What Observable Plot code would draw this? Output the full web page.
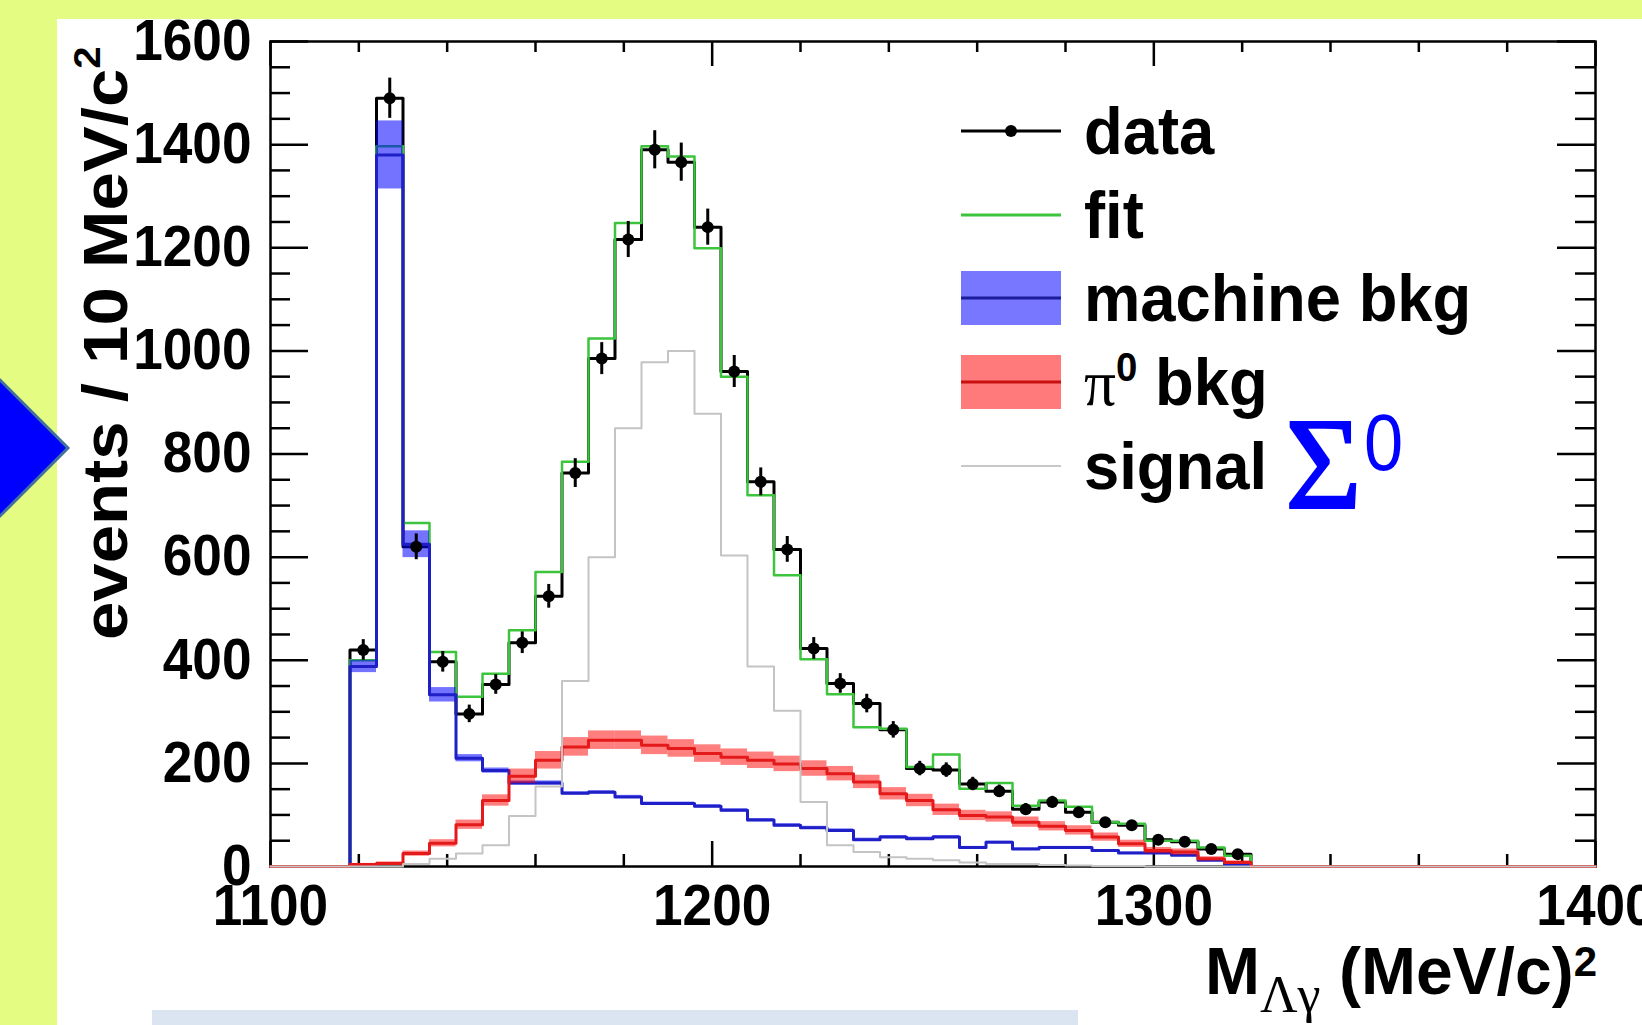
<!DOCTYPE html>
<html><head><meta charset="utf-8">
<script src="https://cdn.jsdelivr.net/npm/d3@7"></script>
<script src="https://cdn.jsdelivr.net/npm/@observablehq/plot@0.6"></script>
<style>
html,body{margin:0;padding:0;}
body{width:1642px;height:1025px;overflow:hidden;background:#e5fc83;position:relative;font-family:"Liberation Sans",Arial,sans-serif;}
#panel{position:absolute;left:57px;top:19px;right:0;bottom:0;background:#ffffff;}
#bluebar{position:absolute;left:152px;top:1010px;width:926px;height:15px;background:#dbe5f1;}
#deco{position:absolute;left:0;top:0;}
#chart{position:absolute;left:0;top:0;}
#overlay{position:absolute;left:0;top:0;}
</style></head><body>
<div id="panel"></div><div id="bluebar"></div>
<svg id="deco" width="1642" height="1025"><polygon points="-68,448 0,380 68,448 0,516" fill="#0000ff" stroke="#41719c" stroke-width="3"/></svg>
<div id="chart"></div>
<svg id="overlay" width="1642" height="1025"></svg>
<script>
// ---- data ----
const binEdges = [1118,1124,1130,1136,1142,1148,1154,1160,1166,1172,1178,1184,1190,1196,1202,1208,1214,1220,1226,1232,1238,1244,1250,1256,1262,1268,1274,1280,1286,1292,1298,1304,1310,1316,1322];
const binCenters = [1121,1127,1133,1139,1145,1151,1157,1163,1169,1175,1181,1187,1193,1199,1205,1211,1217,1223,1229,1235,1241,1247,1253,1259,1265,1271,1277,1283,1289,1295,1301,1307,1313,1319];
const dataCounts = [420,1490,620,397,296,353,434,524,763,985,1216,1390,1366,1240,960,746,615,423,355,316,265,190,187,160,146,111,125,105,86,80,52,48,34,24];
const dataErrors = [20,39,25,20,17,19,21,23,28,31,35,37,37,35,31,27,25,21,19,18,16,14,14,13,12,11,11,10,9,9,7,7,6,5];
const fitValues = [400,1397,666,416,329,374,458,571,785,1024,1248,1397,1377,1199,950,720,565,402,334,270,267,193,217,151,162,118,128,116,86,83,50,50,37,21];
const machineBkg = [388,1380,625,333,210,186,162,162,142,144,135,122,122,117,109,90,80,75,70,52,57,54,57,37,47,34,37,37,31,26,26,22,12,4];
const machineErr = [12,66,26,14,7,5,4,4,3,3,3,3,3,3,3,3,3,3,3,3,3,3,3,2,2,2,2,2,2,2,2,2,2,2];
const pi0Bkg = [4,6,25,45,81,128,175,206,232,245,245,235,229,219,212,206,199,190,180,164,141,128,110,99,96,86,78,70,57,44,31,28,15,8];
const pi0Err = [2,3,5,7,9,11,14,17,18,18,18,18,17,17,16,16,15,15,14,13,12,12,11,10,10,10,9,9,8,7,6,6,4,3];
const signalValues = [0,0,5,15,25,41,98,155,360,600,850,978,1000,878,603,388,302,125,41,28,18,15,12,8,5,5,3,2,1,1,0,0,0,0];
const xDomain = [1100, 1400];
const yDomain = [0, 1600];
const xTickLabels = [1100,1200,1300,1400];
const xMinorTicks = [1120,1140,1160,1180,1220,1240,1260,1280,1320,1340,1360,1380];
const yTickLabels = [0,200,400,600,800,1000,1200,1400,1600];
const yMinorTicks = [50,100,150,250,300,350,450,500,550,650,700,750,850,900,950,1050,1100,1150,1250,1300,1350,1450,1500,1550];
const legendLabels = ["data","fit","machine bkg","π0 bkg","signal"];
const xTitle = ["M","Λγ"," (MeV/c)","2"];
const yTitle = ["events / 10 MeV/c","2"];
const annotation = ["Σ","0"];

// ---- colours ----
const C = {data:"#000000", fit:"#3cc43c", mLine:"#1f1fc8", mBand:"#0000ff", pLine:"#e41a1a", pBand:"#ff0000", sig:"#c4c4c4"};

const idx = d3.range(binCenters.length);
function stepSeries(values){
  const pts = [{x: xDomain[0], y: 0}];
  values.forEach((v,i) => pts.push({x: binEdges[i], y: v}));
  pts.push({x: binEdges[binEdges.length-1], y: 0});
  pts.push({x: xDomain[1], y: 0});
  return pts;
}
const W = 1642, H = 1025, mL = 270, mR = 47, mT = 41, mB = 159;
const fw = W - mL - mR, fh = H - mT - mB;

const plot = Plot.plot({
  width: W, height: H,
  marginLeft: mL, marginRight: mR, marginTop: mT, marginBottom: mB,
  x: {domain: xDomain, axis: null},
  y: {domain: yDomain, axis: null},
  style: {background: "transparent", fontFamily: "'Liberation Sans', Arial, sans-serif", overflow: "visible"},
  marks: [
    Plot.frame({stroke: "black", strokeWidth: 2.5}),
    // inward ticks: bottom, top, left, right
    Plot.tickX(xTickLabels, {x: d => d, insetTop: fh - 25, stroke: "black", strokeWidth: 2.5}),
    Plot.tickX(xMinorTicks, {x: d => d, insetTop: fh - 12, stroke: "black", strokeWidth: 2.5}),
    Plot.tickX(xTickLabels, {x: d => d, insetBottom: fh - 25, stroke: "black", strokeWidth: 2.5}),
    Plot.tickX(xMinorTicks, {x: d => d, insetBottom: fh - 11, stroke: "black", strokeWidth: 2.5}),
    Plot.tickY(yTickLabels, {y: d => d, insetRight: fw - 38, stroke: "black", strokeWidth: 2.5}),
    Plot.tickY(yMinorTicks, {y: d => d, insetRight: fw - 20, stroke: "black", strokeWidth: 2.5}),
    Plot.tickY(yTickLabels, {y: d => d, insetLeft: fw - 38, stroke: "black", strokeWidth: 2.5}),
    Plot.tickY(yMinorTicks, {y: d => d, insetLeft: fw - 20, stroke: "black", strokeWidth: 2.5}),
    // data histogram outline
    Plot.line(stepSeries(dataCounts), {x: "x", y: "y", curve: "step-after", stroke: C.data, strokeWidth: 3}),
    // fit
    Plot.line(stepSeries(fitValues), {x: "x", y: "y", curve: "step-after", stroke: C.fit, strokeWidth: 2.5}),
    // machine bkg
    Plot.rect(idx, {x1: i => binEdges[i], x2: i => binEdges[i+1], y1: i => machineBkg[i] - machineErr[i], y2: i => machineBkg[i] + machineErr[i], fill: C.mBand, fillOpacity: 0.55, inset: 0}),
    Plot.line(stepSeries(machineBkg), {x: "x", y: "y", curve: "step-after", stroke: C.mLine, strokeWidth: 3}),
    // pi0 bkg
    Plot.rect(idx, {x1: i => binEdges[i], x2: i => binEdges[i+1], y1: i => pi0Bkg[i] - pi0Err[i], y2: i => pi0Bkg[i] + pi0Err[i], fill: C.pBand, fillOpacity: 0.5, inset: 0}),
    Plot.line(stepSeries(pi0Bkg), {x: "x", y: "y", curve: "step-after", stroke: C.pLine, strokeWidth: 3}),
    // signal
    Plot.line(stepSeries(signalValues), {x: "x", y: "y", curve: "step-after", stroke: C.sig, strokeWidth: 2}),
    // data points
    Plot.ruleX(idx, {x: i => binCenters[i], y1: i => dataCounts[i] - dataErrors[i], y2: i => dataCounts[i] + dataErrors[i], stroke: "black", strokeWidth: 3}),
    Plot.dot(idx, {x: i => binCenters[i], y: i => dataCounts[i], r: 6, fill: "black", stroke: "none"}),
    // tick labels
    Plot.text(xTickLabels, {x: d => d, frameAnchor: "bottom", dy: 40, text: d => String(d), fontSize: 56, fontWeight: "bold", textAnchor: "middle", lineAnchor: "middle", fill: "black"}),
    Plot.text(yTickLabels, {y: d => d, frameAnchor: "left", dx: -19, text: d => String(d), fontSize: 56, fontWeight: "bold", textAnchor: "end", lineAnchor: "middle", fill: "black"})
  ]
});
plot.querySelectorAll("text").forEach(t => {
  const tr = t.getAttribute("transform") || "";
  t.setAttribute("transform", tr + " scale(0.95,1.02)");
});
document.getElementById("chart").appendChild(plot);

// ---- titles, legend, annotation ----
const ov = d3.select("#overlay");
const SANS = "'Liberation Sans', Arial, sans-serif", SERIF = "'Liberation Serif', 'Times New Roman', serif";

const yt = ov.append("text").attr("transform", "translate(127,640) scale(0.9,1) rotate(-90)")
  .attr("font-family", SANS).attr("font-weight", "bold").attr("font-size", 69).attr("fill", "black");
yt.append("tspan").text(yTitle[0]);
yt.append("tspan").attr("font-size", 40).attr("dy", -30).text(yTitle[1]);

const xt = ov.append("text").attr("transform", "translate(1597,994)").attr("text-anchor", "end")
  .attr("font-family", SANS).attr("font-weight", "bold").attr("font-size", 66).attr("fill", "black");
xt.append("tspan").text(xTitle[0]);
xt.append("tspan").attr("font-family", SERIF).attr("font-weight", "normal").attr("font-size", 52).attr("dy", 18).text(xTitle[1]);
xt.append("tspan").attr("dy", -18).text(xTitle[2]);
xt.append("tspan").attr("font-size", 42).attr("dy", -18).text(xTitle[3]);

// legend
const rowCenters = [131, 215, 298, 382, 466];
const sx1 = 961, sx2 = 1061, tx = 1084;
legendLabels.forEach((lab, i) => {
  const cy = rowCenters[i];
  const g = ov.append("g");
  if (i === 2 || i === 3) {
    g.append("rect").attr("x", sx1).attr("y", cy - 27).attr("width", sx2 - sx1).attr("height", 54)
      .attr("fill", i === 2 ? "#7777ff" : "#ff7b7b");
  }
  const stroke = [C.data, C.fit, "#1c1c9c", "#c81010", "#c8c8c8"][i];
  g.append("line").attr("x1", sx1).attr("x2", sx2).attr("y1", cy).attr("y2", cy)
    .attr("stroke", stroke).attr("stroke-width", i === 4 ? 2 : 3);
  if (i === 0) g.append("circle").attr("cx", (sx1 + sx2) / 2).attr("cy", cy).attr("r", 6).attr("fill", "black");
  const t = g.append("text").attr("transform", `translate(${tx},${cy + 23}) scale(0.96,1)`)
    .attr("font-family", SANS).attr("font-weight", "bold").attr("font-size", 66).attr("fill", "black");
  if (i === 3) {
    t.append("tspan").attr("font-family", SERIF).attr("font-weight", "normal").text(lab[0]);
    t.append("tspan").attr("font-size", 40).attr("dy", -24).text(lab[1]);
    t.append("tspan").attr("dy", 24).text(lab.slice(2));
  } else {
    t.text(lab);
  }
});

// Sigma annotation
ov.append("text").attr("x", 1285).attr("y", 508).attr("font-family", SERIF).attr("font-size", 132)
  .attr("fill", "#0000ff").attr("stroke", "#0000ff").attr("stroke-width", 2).text(annotation[0]);
ov.append("text").attr("transform", "translate(1364,470) scale(0.88,1)").attr("font-family", SANS)
  .attr("font-size", 80).attr("fill", "#0000ff").text(annotation[1]);
</script>
</body></html>
